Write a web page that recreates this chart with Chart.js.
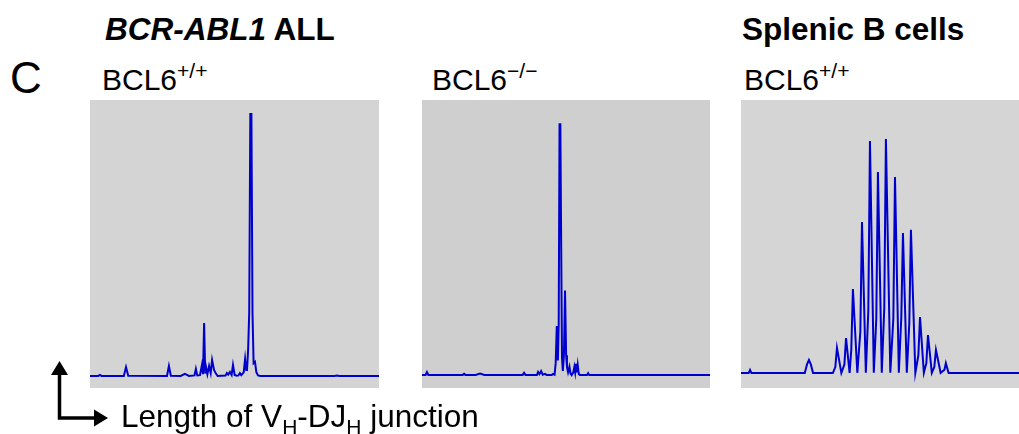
<!DOCTYPE html>
<html>
<head>
<meta charset="utf-8">
<script src="https://cdn.jsdelivr.net/npm/chart.js@4"></script>
<style>
  html, body { margin: 0; padding: 0; background: #fff; }
  body { width: 1019px; height: 434px; position: relative; overflow: hidden;
         font-family: "Liberation Sans", Arial, Helvetica, sans-serif; color: #000; }
  .t { position: absolute; white-space: nowrap; line-height: 1; }
  .panel { position: absolute; top: 100px; height: 288px; }
  .panel canvas { display: block; }
  .sup { font-size: 21px; position: relative; top: -12px; }
  .sub { font-size: 21px; position: relative; top: 7px; }
</style>
</head>
<body>
<div class="t" style="left:105px;top:14px;font-size:31.5px;font-weight:bold;"><i>BCR-ABL1</i> ALL</div>
<div class="t" style="left:742px;top:14px;font-size:31.5px;font-weight:bold;">Splenic B cells</div>
<div class="t" style="left:10px;top:56px;font-size:44px;">C</div>
<div class="t" style="left:102px;top:65px;font-size:30px;">BCL6<span class="sup">+/+</span></div>
<div class="t" style="left:432px;top:65px;font-size:30px;">BCL6<span class="sup">&#8722;/&#8722;</span></div>
<div class="t" style="left:744px;top:65px;font-size:30px;">BCL6<span class="sup">+/+</span></div>

<div class="panel" style="left:90px;width:289px;background:#d4d4d4;"><canvas id="c1" width="289" height="288"></canvas></div>
<div class="panel" style="left:422px;width:288px;background:#cfcfcf;"><canvas id="c2" width="288" height="288"></canvas></div>
<div class="panel" style="left:741px;width:278px;background:#d5d5d5;"><canvas id="c3" width="278" height="288"></canvas></div>

<svg style="position:absolute;left:0;top:0" width="1019" height="434">
  <polyline points="59.5,372 59.5,418 94,418" fill="none" stroke="#000" stroke-width="3.5"/>
  <polygon points="59.5,361 51,375 68,375" fill="#000"/>
  <polygon points="108,418 94,409.5 94,426.5" fill="#000"/>
</svg>
<div class="t" style="left:121px;top:401px;font-size:31.5px;">Length of V<span class="sub">H</span>-DJ<span class="sub">H</span> junction</div>

<script>
// x: relative fragment length (arbitrary units), y: relative fluorescence (0-100)
const allWildTypeTrace = [
  [0,0.1],[3.0,0.1],[3.6,0.5],[4.2,0.1],[12.3,0.1],[13.1,3.5],[13.9,0.2],
  [28.0,0.1],[28.7,3.9],[29.4,0.2],[33.0,0.1],[34.5,0.9],[36.0,0.1],
  [38.0,0.3],[38.5,2.8],[39.0,0.3],[40.0,0.4],[40.7,4.3],[41.1,0.8],[41.5,20.3],
  [41.9,1.0],[42.2,3.5],[42.7,0.8],[43.3,3.9],[43.9,1.2],[44.4,6.2],[45.1,2.4],
  [45.8,1.0],[46.4,0.1],[49.3,0.3],[49.8,1.2],[50.3,0.6],[50.9,1.6],[51.5,0.5],
  [52.0,4.3],[52.6,0.5],[53.4,0.2],[54.0,0.3],[54.5,1.2],[55.0,0.4],[55.9,1.5],
  [56.4,6.6],[56.8,2.4],[57.1,2.4],[57.5,10.0],[57.9,24.1],[58.3,100.2],[58.7,100.2],
  [59.1,24.0],[59.5,5.0],[60.0,5.5],[60.5,1.5],[61.1,0.3],[62.0,0.1],
  [89.0,0.1],[89.8,0.3],[90.6,0.1],[105.1,0.1]
];
const allKnockoutTrace = [
  [0,0.5],[1.3,0.5],[1.8,1.6],[2.3,0.5],[14.8,0.5],[15.3,0.9],[15.8,0.5],
  [19.5,0.5],[21.1,1.0],[22.7,0.5],[36.6,0.5],[37.1,1.3],[37.6,0.5],
  [41.8,0.5],[42.2,1.6],[42.7,0.8],[43.3,2.0],[43.9,0.6],[44.7,0.9],[45.3,0.5],
  [47.2,0.5],[47.6,0.9],[48.2,0.6],[48.6,5.0],[49.0,19.2],[49.4,6.0],[49.7,20.0],
  [50.0,96.2],[50.3,96.2],[50.6,50.0],[50.9,7.0],[51.2,2.0],[51.6,8.0],[52.0,32.7],
  [52.4,8.0],[52.7,3.5],[53.1,1.5],[53.6,3.6],[54.0,1.0],[54.4,0.4],[55.0,1.5],
  [55.4,3.6],[55.7,1.5],[56.0,4.7],[56.3,1.5],[56.6,4.3],[57.0,0.8],[57.4,0.5],
  [60.0,0.5],[60.4,1.2],[60.8,0.5],[104.7,0.5]
];
const splenicBTrace = [
  [0,1.2],[2.8,1.2],[3.3,2.4],[3.8,1.2],[23.2,1.2],[24.0,4.5],[24.7,6.2],[25.4,4.5],[26.2,1.2],
  [33.4,1.2],[34.3,3.5],[34.9,10.8],[36.5,1.3],
  [37.6,4.5],[38.2,14.6],[39.5,1.3],
  [40.1,10.0],[40.7,33.3],[42.3,1.3],
  [43.4,17.0],[44.0,58.9],[45.4,1.3],
  [46.3,25.0],[46.9,89.8],[48.3,1.3],
  [49.2,22.0],[49.8,78.0],[51.2,1.3],
  [52.1,26.0],[52.7,90.6],[54.3,1.3],
  [55.4,22.0],[56.0,76.1],[57.4,1.3],
  [58.3,22.6],[58.9,54.7],[60.3,1.3],
  [61.2,20.0],[61.8,55.9],[63.4,1.3],
  [64.5,8.0],[65.1,22.6],[66.5,1.3],
  [67.4,5.0],[68.0,15.7],[69.4,1.3],
  [70.3,3.5],[70.9,10.0],[72.6,1.3],
  [74.0,2.5],[74.5,5.0],[75.5,1.2],[101.1,1.2]
];
const xMaxima = [105.1, 104.7, 101.1];

function drawTrace(id, trace, xMax) {
  new Chart(document.getElementById(id), {
    type: 'line',
    data: { datasets: [{
      data: trace.map(p => ({ x: p[0], y: p[1] })),
      borderColor: 'rgb(0,0,205)', borderWidth: 2,
      pointRadius: 0, tension: 0, fill: false
    }]},
    options: {
      responsive: false, animation: false,
      layout: { padding: 0 },
      plugins: { legend: { display: false }, tooltip: { enabled: false } },
      scales: {
        x: { type: 'linear', min: 0, max: xMax, display: false },
        y: { min: -4.5, max: 105.5, display: false }
      }
    }
  });
}
drawTrace('c1', allWildTypeTrace, xMaxima[0]);
drawTrace('c2', allKnockoutTrace, xMaxima[1]);
drawTrace('c3', splenicBTrace, xMaxima[2]);
</script>
</body>
</html>
